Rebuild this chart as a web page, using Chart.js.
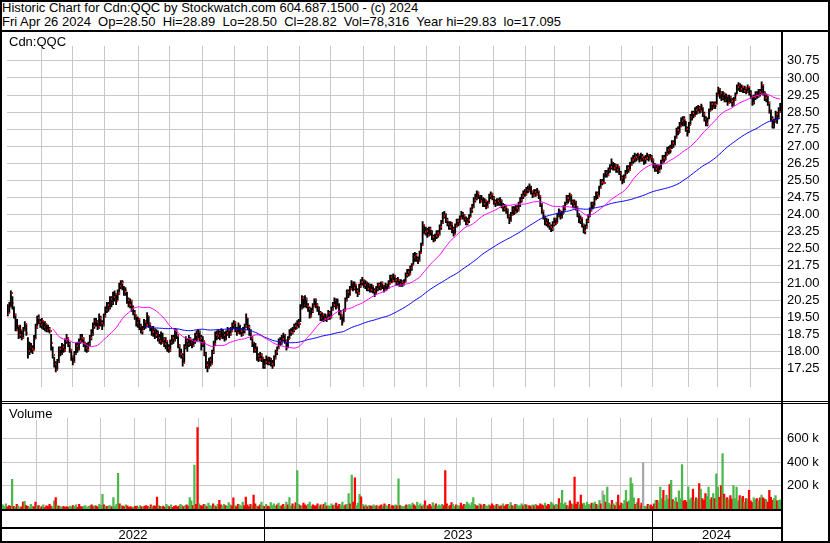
<!DOCTYPE html>
<html>
<head>
<meta charset="utf-8">
<script src="https://cdn.jsdelivr.net/npm/chart.js@4.4.1/dist/chart.umd.min.js"></script>
<style>
  body { margin: 0; background: #fff; }
  #wrap { position: relative; width: 830px; height: 543px; background: #fff; overflow: hidden; font-family: Arial, "Liberation Sans", sans-serif; }
  #wrap canvas { position: absolute; }
  .rule { position: absolute; background: #000; }
  .hdr { position: absolute; left: 2px; top: 1px; font-size: 13px; line-height: 14px; white-space: pre; color: #000; }
  .tag { position: absolute; background: #fff; font-size: 13px; line-height: 14px; padding: 3px 0 0 7px; box-sizing: border-box; color: #000; }
</style>
</head>
<body>
<div id="wrap">
  <canvas id="priceChart" width="826" height="369" style="left:2px;top:32px"></canvas>
  <canvas id="volumeChart" width="826" height="137" style="left:2px;top:404px"></canvas>

  <div class="hdr">Historic Chart for Cdn:QQC by Stockwatch.com 604.687.1500 - (c) 2024
Fri Apr 26 2024  Op=28.50  Hi=28.89  Lo=28.50  Cl=28.82  Vol=78,316  Year hi=29.83  lo=17.095</div>
  <div class="tag" style="left:2px;top:32px;width:65px;height:16px">Cdn:QQC</div>
  <div class="tag" style="left:2px;top:404px;width:56px;height:16px">Volume</div>

  <div class="rule" style="left:0;top:0;width:830px;height:2px"></div>
  <div class="rule" style="left:0;top:30px;width:830px;height:2px"></div>
  <div class="rule" style="left:0;top:401px;width:830px;height:1px"></div>
  <div class="rule" style="left:0;top:403px;width:830px;height:1px"></div>
  <div class="rule" style="left:0;top:541px;width:830px;height:2px"></div>
  <div class="rule" style="left:0;top:0;width:2px;height:543px"></div>
  <div class="rule" style="left:828px;top:0;width:2px;height:543px"></div>
  <div class="rule" style="left:781px;top:30px;width:2px;height:513px"></div>
</div>

<script>
// daily bars, first bar early May 2022, last bar Apr 26 2024
const closes = [
  19.70, 19.95, 20.55, 20.10, 19.60, 18.95, 19.10, 18.70, 18.95, 18.60,
  18.95, 19.20, 18.80, 18.00, 18.20, 18.10, 18.05, 18.55, 19.05, 19.45,
  19.30, 19.15, 19.35, 19.05, 19.20, 18.95, 19.00, 18.90, 18.35, 17.85,
  17.45, 17.20, 17.55, 18.10, 17.90, 18.20, 18.05, 18.45, 18.60, 18.30,
  18.05, 17.75, 17.55, 17.90, 18.25, 18.10, 18.45, 18.60, 18.55, 18.35,
  18.15, 18.05, 18.30, 18.60, 18.75, 19.10, 19.35, 19.30, 19.05, 19.45,
  19.25, 19.15, 19.55, 19.80, 20.05, 19.90, 20.30, 20.10, 20.40, 20.50,
  20.20, 20.55, 20.85, 21.00, 21.05, 20.60, 20.70, 20.25, 20.05, 20.20,
  19.90, 19.70, 19.55, 19.25, 19.40, 19.10, 18.90, 19.00, 19.30, 19.15,
  19.55, 19.20, 19.05, 18.85, 19.00, 18.70, 18.80, 18.60, 18.45, 18.35,
  18.55, 18.30, 18.45, 18.15, 18.05, 18.40, 18.60, 18.50, 18.90, 18.70,
  18.25, 17.90, 17.80, 17.50, 18.20, 18.45, 18.30, 18.55, 18.40, 18.25,
  18.45, 18.70, 18.55, 18.85, 18.60, 18.30, 18.45, 17.90, 17.40, 17.30,
  17.60, 17.45, 17.95, 18.30, 18.70, 18.65, 18.80, 18.60, 18.85, 18.70,
  18.55, 18.80, 18.95, 18.75, 18.90, 19.15, 19.25, 18.95, 18.80, 19.15,
  18.90, 18.75, 18.95, 19.10, 19.45, 19.05, 18.85, 18.60, 18.35, 18.05,
  18.20, 17.80, 17.65, 17.85, 17.70, 17.35, 17.55, 17.70, 17.50, 17.65,
  17.45, 17.35, 17.70, 17.95, 18.15, 18.45, 18.35, 18.55, 18.70, 18.45,
  18.15, 18.55, 18.85, 18.80, 18.95, 19.10, 19.05, 19.25, 19.20, 19.90,
  20.35, 20.05, 20.30, 20.00, 19.85, 19.55, 19.75, 20.00, 20.25, 20.05,
  19.85, 19.70, 19.45, 19.60, 19.40, 19.55, 19.45, 19.70, 19.50, 19.85,
  20.05, 20.25, 19.95, 20.20, 19.70, 19.55, 19.30, 19.75, 20.25, 20.60,
  20.45, 20.75, 21.00, 20.80, 20.90, 20.65, 20.55, 20.85, 21.05, 21.15,
  20.90, 21.00, 20.75, 20.90, 20.70, 20.85, 20.65, 20.50, 20.75, 20.90,
  20.80, 21.00, 20.85, 20.70, 20.90, 20.80, 21.00, 21.25, 21.10, 21.30,
  21.15, 21.00, 21.15, 20.95, 21.05, 20.95, 21.05, 21.35, 21.50, 21.40,
  21.65, 21.80, 22.15, 22.25, 22.05, 21.95, 22.30, 22.65, 23.55, 23.25,
  23.30, 23.10, 23.35, 23.25, 23.00, 22.85, 23.05, 23.20, 23.10, 23.45,
  23.65, 23.95, 24.05, 23.75, 23.60, 23.45, 23.60, 23.35, 23.15, 23.50,
  23.70, 23.60, 23.85, 24.05, 23.95, 23.80, 23.65, 23.75, 23.90, 24.20,
  24.35, 24.65, 24.75, 24.95, 24.80, 24.60, 24.75, 24.45, 24.60, 24.35,
  24.50, 24.80, 24.90, 24.75, 24.55, 24.45, 24.60, 24.50, 24.65, 24.40,
  24.25, 24.35, 24.20, 23.95, 23.70, 24.00, 24.25, 24.10, 24.30, 24.20,
  24.45, 24.65, 24.80, 24.95, 24.90, 25.10, 25.05, 25.25, 25.00, 24.85,
  25.00, 24.90, 25.05, 24.80, 24.45, 24.15, 23.90, 23.65, 23.75, 23.55,
  23.45, 23.35, 23.60, 23.80, 23.65, 23.95, 24.15, 23.90, 24.05, 24.30,
  24.45, 24.75, 24.60, 24.85, 24.55, 24.40, 24.55, 24.30, 24.00, 23.75,
  23.85, 23.55, 23.30, 23.45, 23.70, 23.90, 24.20, 24.45, 24.35, 24.70,
  24.90, 24.80, 25.15, 25.45, 25.40, 25.40, 25.85, 25.75, 25.95, 26.10,
  26.30, 26.05, 26.15, 25.95, 26.10, 25.85, 25.60, 25.45, 25.65, 25.85,
  26.05, 25.95, 26.20, 26.40, 26.50, 26.55, 26.45, 26.60, 26.40, 26.55,
  26.45, 26.45, 26.50, 26.60, 26.45, 26.55, 26.40, 26.15, 26.00, 26.10,
  25.90, 26.05, 26.30, 26.50, 26.40, 26.65, 26.85, 26.90, 26.80, 27.15,
  27.05, 27.35, 27.70, 27.60, 27.90, 28.10, 28.20, 28.15, 27.75, 27.55,
  27.95, 28.30, 28.45, 28.35, 28.60, 28.50, 28.70, 28.55, 28.75, 28.40,
  28.20, 28.00, 28.15, 28.55, 28.85, 28.70, 28.85, 28.75, 29.25, 29.50,
  29.35, 29.10, 29.30, 29.05, 29.20, 28.90, 29.15, 29.00, 28.85, 29.05,
  29.25, 29.60, 29.70, 29.50, 29.60, 29.45, 29.55, 29.40, 29.60, 29.35,
  29.20, 28.90, 29.15, 29.30, 29.20, 29.40, 29.30, 29.70, 29.35, 29.10,
  29.20, 28.90, 28.55, 28.20, 27.90, 28.10, 28.40, 28.25, 28.50, 28.82
];

const highs = [
  20.05, 20.15, 20.65, 20.40, 19.95, 19.65, 19.40, 19.10, 19.15, 18.90,
  19.05, 19.30, 19.20, 18.60, 18.40, 18.35, 18.25, 18.70, 19.20, 19.55,
  19.60, 19.40, 19.45, 19.30, 19.30, 19.20, 19.15, 19.05, 18.75, 18.20,
  17.75, 17.55, 17.65, 18.20, 18.20, 18.35, 18.30, 18.55, 18.75, 18.60,
  18.40, 18.10, 17.80, 18.00, 18.35, 18.40, 18.55, 18.75, 18.75, 18.60,
  18.40, 18.35, 18.40, 18.70, 18.95, 19.25, 19.45, 19.45, 19.35, 19.65,
  19.55, 19.35, 19.65, 19.95, 20.15, 20.15, 20.40, 20.40, 20.60, 20.65,
  20.55, 20.70, 21.00, 21.10, 21.10, 20.85, 20.80, 20.60, 20.35, 20.30,
  20.25, 20.00, 19.80, 19.60, 19.50, 19.45, 19.20, 19.10, 19.40, 19.35,
  19.70, 19.55, 19.25, 19.10, 19.10, 19.00, 18.95, 18.90, 18.75, 18.85,
  18.80, 18.60, 18.60, 18.45, 18.30, 18.50, 18.70, 18.70, 18.95, 18.95,
  18.65, 18.30, 18.10, 17.90, 18.30, 18.65, 18.55, 18.70, 18.60, 18.50,
  18.55, 18.80, 18.90, 18.95, 18.90, 18.70, 18.65, 18.40, 17.95, 17.55,
  17.70, 17.75, 18.05, 18.45, 18.85, 18.90, 18.95, 18.90, 19.00, 18.95,
  18.85, 18.90, 19.05, 19.00, 19.05, 19.25, 19.35, 19.30, 19.05, 19.25,
  19.15, 19.00, 19.05, 19.20, 19.65, 19.45, 19.15, 18.95, 18.65, 18.40,
  18.35, 18.20, 17.90, 17.95, 17.90, 17.75, 17.65, 17.80, 17.75, 17.75,
  17.70, 17.60, 17.80, 18.05, 18.20, 18.55, 18.60, 18.70, 18.80, 18.75,
  18.50, 18.65, 18.95, 19.00, 19.05, 19.20, 19.25, 19.35, 19.40, 20.05,
  20.45, 20.40, 20.45, 20.35, 20.10, 19.95, 19.90, 20.10, 20.30, 20.30,
  20.10, 19.95, 19.75, 19.70, 19.65, 19.65, 19.60, 19.80, 19.75, 19.95,
  20.15, 20.35, 20.30, 20.30, 20.10, 19.80, 19.60, 19.85, 20.35, 20.70,
  20.70, 20.85, 21.10, 21.05, 21.05, 20.95, 20.75, 20.95, 21.15, 21.25,
  21.15, 21.10, 21.05, 21.00, 20.95, 20.95, 20.90, 20.75, 20.85, 21.00,
  21.00, 21.05, 21.05, 20.90, 21.00, 20.95, 21.10, 21.35, 21.35, 21.40,
  21.35, 21.20, 21.25, 21.15, 21.15, 21.10, 21.15, 21.45, 21.60, 21.60,
  21.75, 21.85, 22.30, 22.35, 22.30, 22.15, 22.40, 22.75, 23.70, 23.55,
  23.45, 23.40, 23.45, 23.45, 23.30, 23.10, 23.15, 23.30, 23.30, 23.55,
  23.75, 24.10, 24.15, 24.05, 23.85, 23.70, 23.70, 23.65, 23.45, 23.60,
  23.80, 23.80, 23.95, 24.15, 24.10, 24.00, 23.90, 23.85, 24.00, 24.30,
  24.45, 24.75, 24.90, 25.05, 25.00, 24.85, 24.85, 24.75, 24.70, 24.65,
  24.60, 24.90, 25.00, 24.95, 24.80, 24.65, 24.70, 24.70, 24.75, 24.65,
  24.50, 24.45, 24.40, 24.25, 24.00, 24.10, 24.35, 24.35, 24.40, 24.40,
  24.55, 24.75, 24.90, 25.05, 25.10, 25.20, 25.25, 25.35, 25.25, 25.05,
  25.10, 25.10, 25.15, 25.05, 24.85, 24.50, 24.20, 23.95, 23.85, 23.80,
  23.65, 23.55, 23.70, 23.85, 23.85, 24.05, 24.25, 24.20, 24.15, 24.40,
  24.55, 24.85, 24.85, 24.95, 24.85, 24.65, 24.65, 24.60, 24.35, 24.05,
  23.95, 23.85, 23.60, 23.55, 23.80, 24.00, 24.30, 24.55, 24.55, 24.80,
  25.00, 25.00, 25.25, 25.55, 25.55, 25.80, 25.95, 25.95, 26.05, 26.20,
  26.45, 26.30, 26.25, 26.20, 26.20, 26.10, 25.90, 25.70, 25.75, 25.95,
  26.15, 26.15, 26.30, 26.50, 26.60, 26.70, 26.65, 26.70, 26.65, 26.70,
  26.65, 26.55, 26.60, 26.70, 26.65, 26.65, 26.60, 26.45, 26.25, 26.20,
  26.15, 26.15, 26.40, 26.60, 26.60, 26.75, 26.95, 27.00, 27.05, 27.25,
  27.25, 27.45, 27.80, 27.85, 28.05, 28.25, 28.30, 28.30, 28.10, 27.85,
  28.05, 28.40, 28.55, 28.55, 28.70, 28.75, 28.80, 28.75, 28.85, 28.70,
  28.50, 28.30, 28.25, 28.65, 28.95, 28.95, 28.95, 28.95, 29.35, 29.60,
  29.55, 29.40, 29.40, 29.35, 29.30, 29.25, 29.25, 29.20, 29.10, 29.15,
  29.35, 29.70, 29.80, 29.75, 29.70, 29.65, 29.65, 29.60, 29.70, 29.60,
  29.45, 29.25, 29.25, 29.40, 29.40, 29.50, 29.50, 29.83, 29.70, 29.40,
  29.30, 29.20, 28.95, 28.60, 28.30, 28.20, 28.55, 28.50, 28.70, 28.89
];

const lows = [
  19.55, 19.70, 19.95, 19.85, 19.45, 18.90, 18.90, 18.55, 18.60, 18.50,
  18.55, 18.90, 18.70, 17.70, 17.85, 17.95, 17.90, 18.05, 18.55, 19.00,
  19.20, 19.05, 19.00, 18.95, 18.90, 18.85, 18.85, 18.80, 18.05, 17.70,
  17.30, 17.10, 17.20, 17.50, 17.80, 17.85, 17.95, 18.00, 18.35, 18.20,
  17.95, 17.60, 17.40, 17.50, 17.85, 17.95, 18.05, 18.35, 18.40, 18.20,
  18.00, 17.95, 18.00, 18.25, 18.50, 18.70, 19.00, 19.10, 18.95, 19.00,
  19.10, 18.95, 19.10, 19.50, 19.70, 19.75, 19.85, 19.95, 20.05, 20.20,
  20.05, 20.25, 20.50, 20.75, 20.70, 20.45, 20.45, 20.10, 19.95, 19.90,
  19.75, 19.60, 19.40, 19.10, 19.05, 18.95, 18.80, 18.75, 18.95, 19.00,
  19.10, 19.05, 18.90, 18.70, 18.65, 18.55, 18.60, 18.45, 18.35, 18.30,
  18.40, 18.20, 18.10, 18.00, 17.95, 18.00, 18.30, 18.35, 18.45, 18.55,
  18.15, 17.75, 17.70, 17.35, 17.50, 18.10, 18.00, 18.20, 18.25, 18.15,
  18.20, 18.35, 18.45, 18.50, 18.45, 18.05, 18.20, 17.80, 17.25, 17.10,
  17.25, 17.35, 17.45, 17.90, 18.25, 18.50, 18.55, 18.50, 18.60, 18.55,
  18.45, 18.50, 18.70, 18.60, 18.70, 18.85, 19.00, 18.85, 18.70, 18.80,
  18.75, 18.65, 18.70, 18.80, 19.05, 18.95, 18.70, 18.50, 18.20, 17.95,
  17.95, 17.60, 17.55, 17.60, 17.55, 17.25, 17.25, 17.45, 17.40, 17.40,
  17.35, 17.25, 17.35, 17.65, 17.85, 18.10, 18.25, 18.30, 18.45, 18.35,
  18.05, 18.15, 18.55, 18.70, 18.75, 18.85, 18.95, 19.00, 19.05, 19.30,
  19.85, 19.90, 19.95, 19.90, 19.75, 19.45, 19.50, 19.70, 19.95, 19.90,
  19.75, 19.60, 19.35, 19.35, 19.30, 19.35, 19.30, 19.40, 19.40, 19.45,
  19.80, 19.95, 19.85, 19.90, 19.60, 19.40, 19.15, 19.30, 19.80, 20.20,
  20.35, 20.45, 20.70, 20.65, 20.70, 20.55, 20.40, 20.50, 20.80, 20.90,
  20.80, 20.75, 20.65, 20.65, 20.60, 20.60, 20.55, 20.40, 20.50, 20.65,
  20.70, 20.70, 20.75, 20.60, 20.65, 20.70, 20.75, 20.95, 21.00, 21.05,
  21.05, 20.90, 20.90, 20.85, 20.85, 20.85, 20.90, 21.05, 21.25, 21.30,
  21.35, 21.55, 21.80, 21.95, 21.95, 21.85, 21.95, 22.30, 22.65, 23.15,
  23.10, 23.00, 23.05, 23.10, 22.90, 22.80, 22.85, 22.95, 23.00, 23.10,
  23.35, 23.60, 23.85, 23.65, 23.50, 23.35, 23.35, 23.20, 23.05, 23.15,
  23.45, 23.50, 23.55, 23.80, 23.80, 23.70, 23.55, 23.55, 23.65, 23.90,
  24.10, 24.30, 24.55, 24.65, 24.70, 24.50, 24.55, 24.35, 24.35, 24.25,
  24.30, 24.50, 24.70, 24.65, 24.45, 24.35, 24.40, 24.40, 24.40, 24.30,
  24.15, 24.15, 24.05, 23.85, 23.60, 23.70, 23.95, 24.00, 24.05, 24.10,
  24.15, 24.35, 24.55, 24.70, 24.80, 24.85, 24.95, 25.00, 24.90, 24.75,
  24.80, 24.80, 24.85, 24.70, 24.35, 24.05, 23.80, 23.55, 23.50, 23.45,
  23.35, 23.25, 23.30, 23.50, 23.55, 23.65, 23.90, 23.80, 23.85, 24.05,
  24.20, 24.45, 24.50, 24.60, 24.45, 24.30, 24.30, 24.20, 23.90, 23.65,
  23.60, 23.45, 23.20, 23.15, 23.40, 23.65, 23.90, 24.15, 24.25, 24.40,
  24.65, 24.70, 24.85, 25.15, 25.30, 25.35, 25.65, 25.65, 25.70, 25.85,
  26.00, 25.95, 25.95, 25.85, 25.85, 25.75, 25.50, 25.35, 25.40, 25.60,
  25.80, 25.85, 25.95, 26.15, 26.25, 26.30, 26.35, 26.40, 26.30, 26.35,
  26.35, 26.20, 26.25, 26.40, 26.35, 26.40, 26.30, 26.05, 25.90, 25.90,
  25.80, 25.85, 26.00, 26.25, 26.30, 26.40, 26.60, 26.65, 26.70, 26.90,
  26.95, 27.05, 27.35, 27.50, 27.60, 27.85, 27.90, 27.90, 27.65, 27.45,
  27.60, 27.95, 28.15, 28.25, 28.35, 28.40, 28.45, 28.45, 28.50, 28.30,
  28.10, 27.90, 27.90, 28.20, 28.55, 28.60, 28.65, 28.65, 28.85, 29.20,
  29.10, 29.00, 29.05, 28.95, 28.95, 28.80, 28.90, 28.90, 28.75, 28.80,
  29.00, 29.30, 29.45, 29.40, 29.40, 29.35, 29.35, 29.30, 29.35, 29.25,
  29.10, 28.80, 28.85, 29.05, 29.10, 29.15, 29.20, 29.30, 29.25, 29.00,
  28.95, 28.80, 28.45, 28.10, 27.80, 27.80, 28.05, 28.00, 28.20, 28.50
];

// daily volume, thousands of shares
const volumes = [
  35, 20, 45, 18, 30, 25, 254, 22, 15, 40, 28, 12, 18, 60, 65, 30, 22, 15, 40, 25,
  18, 60, 25, 30, 15, 20, 35, 12, 28, 22, 40, 25, 18, 70, 97, 30, 25, 20, 15, 22,
  12, 20, 15, 25, 18, 30, 22, 35, 15, 40, 20, 18, 25, 30, 12, 22, 28, 35, 20, 30,
  25, 18, 40, 30, 125, 35, 20, 22, 28, 30, 18, 97, 25, 40, 305, 45, 30, 25, 20, 35,
  28, 15, 20, 12, 18, 22, 25, 15, 30, 20, 18, 25, 30, 22, 15, 35, 20, 28, 25, 103,
  30, 22, 18, 25, 15, 40, 28, 20, 35, 15, 22, 30, 18, 25, 40, 30, 20, 28, 35, 25,
  97, 70, 30, 375, 40, 696, 45, 30, 25, 40, 35, 20, 50, 30, 25, 45, 30, 20, 40, 74,
  35, 25, 40, 30, 22, 55, 35, 28, 95, 30, 20, 40, 35, 25, 60, 30, 103, 35, 20, 40,
  30, 120, 45, 25, 20, 35, 60, 28, 22, 40, 25, 20, 55, 30, 45, 25, 35, 50, 22, 30,
  40, 20, 60, 35, 97, 25, 45, 30, 55, 328, 40, 30, 25, 50, 35, 28, 40, 60, 22, 35,
  30, 25, 45, 20, 35, 28, 40, 55, 25, 30, 22, 45, 30, 35, 50, 25, 40, 30, 60, 28,
  35, 40, 133, 45, 290, 60, 267, 30, 50, 126, 104, 40, 25, 35, 20, 30, 28, 22, 35, 25,
  30, 20, 28, 35, 22, 45, 30, 25, 40, 20, 30, 25, 35, 28, 259, 30, 22, 20, 25, 35,
  28, 40, 30, 50, 35, 25, 60, 30, 45, 22, 35, 70, 30, 28, 40, 25, 55, 30, 45, 25,
  35, 28, 40, 30, 328, 45, 25, 30, 55, 40, 22, 35, 30, 25, 50, 28, 40, 35, 60, 45,
  30, 55, 97, 40, 30, 25, 45, 35, 28, 40, 30, 22, 35, 28, 45, 30, 25, 40, 35, 20,
  30, 45, 25, 35, 40, 28, 55, 30, 22, 40, 35, 25, 30, 45, 28, 40, 35, 25, 30, 22,
  35, 28, 40, 30, 25, 45, 35, 30, 50, 28, 40, 35, 60, 45, 30, 40, 35, 90, 50, 159,
  40, 55, 30, 25, 70, 45, 35, 273, 40, 60, 35, 120, 45, 50, 30, 60, 40, 35, 50, 45,
  60, 40, 30, 75, 45, 156, 120, 60, 187, 50, 35, 75, 45, 30, 60, 120, 30, 50, 40, 75,
  159, 60, 70, 267, 218, 95, 40, 55, 90, 30, 50, 400, 25, 20, 40, 30, 35, 20, 45, 75,
  75, 60, 187, 90, 159, 70, 120, 85, 210, 245, 80, 65, 97, 60, 156, 90, 380, 70, 75, 60,
  190, 80, 95, 170, 70, 95, 85, 218, 170, 90, 75, 133, 110, 187, 80, 97, 133, 90, 302, 187,
  100, 200, 474, 127, 90, 97, 80, 115, 85, 200, 90, 187, 70, 115, 95, 108, 57, 90, 85, 159,
  70, 57, 95, 80, 90, 70, 95, 120, 95, 85, 80, 60, 159, 100, 75, 90, 115, 70, 75, 78
];

// first bar of each month (bar index), and of each year
const monthStarts = [22, 42, 63, 85, 105, 126, 147, 168, 189, 209, 230, 250, 271, 292, 314, 335, 354, 376, 397, 417, 440, 459, 480];
const yearStarts = [0, 168, 417];
const yearLabels = ["2022", "2023", "2024"];

const priceTicks = [17.25, 18.00, 18.75, 19.50, 20.25, 21.00, 21.75, 22.50, 23.25, 24.00, 24.75, 25.50, 26.25, 27.00, 27.75, 28.50, 29.25, 30.00, 30.75];
const volumeTicks = [200, 400, 600];

const FONT = 'Arial, "Liberation Sans", sans-serif';
const GRID = "#c8c8c8";

function sma(values, n) {
  return values.map((v, i) => {
    if (i < n - 1) return null;
    let sum = 0;
    for (let k = i - n + 1; k <= i; k++) sum += values[k];
    return sum / n;
  });
}

function indexAxis(bottomHeight) {
  return {
    type: "linear",
    min: -0.5,
    max: closes.length - 0.5,
    offset: false,
    grid: { color: GRID, drawTicks: false, offset: false },
    border: { display: false },
    ticks: { display: false },
    afterBuildTicks: (scale) => {
      scale.ticks = monthStarts.map((m) => ({ value: m - 0.5 }));
    },
    afterFit: (scale) => {
      scale.height = bottomHeight;
    },
  };
}

function valueAxis(min, max, ticks, fmt) {
  return {
    position: "right",
    min: min,
    max: max,
    beginAtZero: false,
    grid: { color: GRID, drawTicks: false },
    border: { display: false },
    ticks: {
      color: "#000",
      padding: 6,
      font: { family: FONT, size: 13 },
      callback: fmt,
    },
    afterBuildTicks: (scale) => {
      scale.ticks = ticks.map((v) => ({ value: v }));
    },
    afterFit: (scale) => {
      scale.width = 47;
    },
  };
}

// close tick: a thin red mark just right of each bar
const closeTick = document.createElement("canvas");
closeTick.width = 4;
closeTick.height = 2;
const tickCtx = closeTick.getContext("2d");
tickCtx.fillStyle = "#ff0000";
tickCtx.fillRect(3, 0, 1, 2);

const ma30 = sma(closes, 30);
const ma90 = sma(closes, 90);

new Chart(document.getElementById("priceChart"), {
  type: "bar",
  data: {
    datasets: [
      {
        type: "line",
        label: "MA 30",
        data: ma30.map((v, i) => ({ x: i, y: v })),
        borderColor: "#ff00ff",
        borderWidth: 1,
        pointRadius: 0,
        tension: 0,
        order: 0,
      },
      {
        type: "line",
        label: "MA 90",
        data: ma90.map((v, i) => ({ x: i, y: v })),
        borderColor: "#0000ff",
        borderWidth: 1,
        pointRadius: 0,
        tension: 0,
        order: 1,
      },
      {
        type: "line",
        label: "Close",
        data: closes.map((v, i) => ({ x: i, y: v })),
        showLine: false,
        pointStyle: closeTick,
        pointRadius: 2,
        order: 2,
      },
      {
        type: "bar",
        label: "High-Low",
        data: closes.map((v, i) => ({ x: i, y: [lows[i], highs[i]] })),
        backgroundColor: "#000",
        barThickness: 1.2,
        order: 3,
      },
    ],
  },
  options: {
    responsive: false,
    animation: false,
    events: [],
    layout: { padding: 0 },
    scales: {
      x: indexAxis(0),
      y: valueAxis(16.424, 31.413, priceTicks, (v) => v.toFixed(2)),
    },
    plugins: {
      legend: { display: false },
      tooltip: { enabled: false },
    },
  },
});

// year strip under the volume panel, placed through the index scale
const yearStrip = {
  id: "yearStrip",
  afterDraw(chart) {
    const { ctx, chartArea } = chart;
    const x = chart.scales.x;
    const top = chartArea.bottom;
    const edges = yearStarts.map((s) => Math.round(x.getPixelForValue(s - 0.5)));
    edges[0] = chartArea.left;
    edges.push(chartArea.right);

    ctx.save();
    ctx.fillStyle = "#000";
    ctx.fillRect(0, top, chartArea.right, 2);
    ctx.fillRect(0, top + 18, chartArea.right, 2);
    for (let k = 1; k < yearStarts.length; k++) {
      ctx.fillRect(edges[k], top + 2, 1, 30);
    }
    ctx.font = "13px " + FONT;
    ctx.textAlign = "center";
    ctx.textBaseline = "alphabetic";
    yearLabels.forEach((label, k) => {
      ctx.fillText(label, (edges[k] + edges[k + 1]) / 2, top + 30);
    });
    ctx.restore();
  },
};

const volumeColors = closes.map((c, i) => {
  if (i === 0 || c > closes[i - 1]) return "#4cb84c";
  if (c < closes[i - 1]) return "#ff0000";
  return "#a8a8a8";
});

new Chart(document.getElementById("volumeChart"), {
  type: "bar",
  data: {
    datasets: [
      {
        label: "Volume",
        data: volumes.map((v, i) => ({ x: i, y: v })),
        backgroundColor: volumeColors,
        barThickness: 1.6,
      },
    ],
  },
  options: {
    responsive: false,
    animation: false,
    events: [],
    layout: { padding: 0 },
    scales: {
      x: indexAxis(32),
      y: valueAxis(0, 780.7, volumeTicks, (v) => v + " k"),
    },
    plugins: {
      legend: { display: false },
      tooltip: { enabled: false },
    },
  },
  plugins: [yearStrip],
});
</script>
</body>
</html>
